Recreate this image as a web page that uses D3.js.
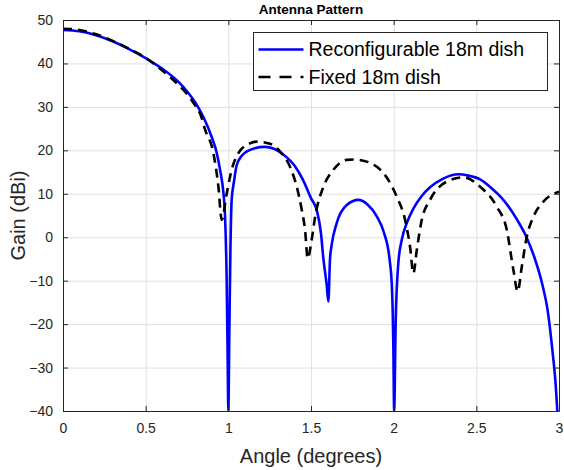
<!DOCTYPE html>
<html>
<head>
<meta charset="utf-8">
<script src="https://cdn.jsdelivr.net/npm/d3@7"></script>
<style>
  body { margin: 0; background: #fff; }
  text { font-family: 'Liberation Sans', Arial, sans-serif; fill: #262626; }
</style>
</head>
<body>
<svg></svg>
<script>
// Reconfigurable 18m dish (blue solid)
const reconfigAngle = [0, 0.1, 0.2, 0.3, 0.4, 0.5, 0.6, 0.7, 0.75, 0.8, 0.85, 0.9, 0.93, 0.95, 0.97, 0.98, 0.99, 0.996, 1.0,
  1.006, 1.013, 1.02, 1.035, 1.05, 1.08, 1.11, 1.16, 1.22, 1.28, 1.35, 1.40, 1.45, 1.50, 1.535, 1.56, 1.575, 1.595, 1.605,
  1.615, 1.625, 1.655, 1.716, 1.787, 1.84, 1.898, 1.94, 1.975, 1.99, 1.998, 2.003,
  2.012, 2.028, 2.049, 2.08, 2.119, 2.17, 2.22, 2.30, 2.391, 2.45, 2.523, 2.6, 2.65, 2.7, 2.75, 2.8, 2.85, 2.9, 2.93, 2.96, 2.98, 2.99];
const reconfigGain = [47.7, 47.4, 46.5, 45.1, 43.3, 41.2, 38.8, 35.7, 33.6, 31.0, 27.6, 23.0, 19.4, 15.5, 10.3, 5, -10, -28, -40,
  -22, -2, 8.5, 13, 16.5, 18.7, 19.7, 20.5, 20.8, 20.3, 18.5, 16.5, 13.3, 9, 6.2, 1, -5, -11, -14.8,
  -5, -1.8, 3.2, 7.4, 8.6, 7.6, 4.8, 1.2, -5, -12, -25, -40,
  -20, -6, -0.6, 3.3, 6.6, 9.5, 11.5, 13.5, 14.5, 14.2, 13.3, 11.0, 9.2, 6.8, 3.8, 0.3, -4.5, -11, -16.5, -26, -34, -40];

// Fixed 18m dish (black dashed)
const fixedAngle = [0, 0.1, 0.2, 0.3, 0.4, 0.5, 0.6, 0.7, 0.75, 0.8, 0.83, 0.86, 0.91, 0.94, 0.96,
  0.99, 1.02, 1.06, 1.131, 1.172, 1.252, 1.313, 1.373, 1.414, 1.444, 1.464, 1.48,
  1.504, 1.525, 1.575, 1.635, 1.716, 1.756, 1.837, 1.898, 1.948, 2.019, 2.069, 2.099, 2.119,
  2.14, 2.17, 2.22, 2.321, 2.422, 2.523, 2.624, 2.684, 2.724, 2.75,
  2.775, 2.805, 2.845, 2.906, 3.0];
const fixedGain = [48.0, 47.7, 46.7, 45.2, 43.4, 41.3, 38.4, 35.0, 33.0, 30.3, 28.4, 24.7, 19.3, 11.6, 4,
  10, 15.5, 19.3, 21.6, 22, 21.5, 19.7, 16.2, 11.6, 6.3, 1.7, -4.9,
  -0.6, 4.7, 11.6, 15.5, 17.8, 17.9, 17.4, 16.2, 14.3, 9.3, 4, -2.2, -8.3,
  -2.9, 4, 8.6, 12.8, 13.8, 11.6, 7, 1.7, -7.5, -12.5,
  -6.8, 0.1, 4.7, 8.2, 10.5];

const xTicks = [0, 0.5, 1, 1.5, 2, 2.5, 3];
const yTicks = [-40, -30, -20, -10, 0, 10, 20, 30, 40, 50];
const seriesNames = ['Reconfigurable 18m dish', 'Fixed 18m dish'];

const titleText = 'Antenna Pattern';
const xAxisLabelText = 'Angle (degrees)';
const yAxisLabelText = 'Gain (dBi)';

const W = 564;
const H = 470;
const margin = { top: 20, right: 5, bottom: 59, left: 63 };
const width = W - margin.left - margin.right;
const height = H - margin.top - margin.bottom;

const svg = d3.select('svg')
  .attr('width', W)
  .attr('height', H);

const chart = svg.append('g')
  .attr('transform', `translate(${margin.left}, ${margin.top})`);

const xScale = d3.scaleLinear()
  .domain([0, 3])
  .range([0, width]);

const yScale = d3.scaleLinear()
  .domain([-40, 50])
  .range([height, 0]);

// grid lines
chart.append('g')
  .attr('class', 'grid')
  .call(d3.axisBottom(xScale).tickValues(xTicks).tickSize(height).tickFormat(''))
  .call(g => g.select('.domain').remove())
  .selectAll('line').attr('stroke', '#e0e0e0');

chart.append('g')
  .attr('class', 'grid')
  .call(d3.axisLeft(yScale).tickValues(yTicks).tickSize(-width).tickFormat(''))
  .call(g => g.select('.domain').remove())
  .selectAll('line').attr('stroke', '#e0e0e0');

// lines
const line = d3.line()
  .curve(d3.curveMonotoneX)
  .x(d => xScale(d[0]))
  .y(d => yScale(d[1]));

const reconfig = reconfigAngle.map((a, i) => [a, reconfigGain[i]]);
const fixed = fixedAngle.map((a, i) => [a, fixedGain[i]]);

chart.append('clipPath').attr('id', 'plotclip')
  .append('rect').attr('width', width).attr('height', height + 1);

chart.append('path')
  .datum(reconfig)
  .attr('clip-path', 'url(#plotclip)')
  .attr('fill', 'none')
  .attr('stroke', '#0000ff')
  .attr('stroke-width', 2.6)
  .attr('stroke-linejoin', 'round')
  .attr('d', line);

chart.append('path')
  .datum(fixed)
  .attr('clip-path', 'url(#plotclip)')
  .attr('fill', 'none')
  .attr('stroke', '#000')
  .attr('stroke-width', 2.6)
  .attr('stroke-dasharray', '9,6')
  .attr('d', line);

// axes with inward ticks, box on all sides
const axisColor = '#262626';
const styleAxis = g => {
  g.select('.domain').attr('stroke', axisColor);
  g.selectAll('line').attr('stroke', axisColor);
};

chart.append('g')
  .attr('transform', `translate(0, ${height})`)
  .call(d3.axisBottom(xScale).tickValues(xTicks).tickSizeInner(-5).tickSizeOuter(0).tickPadding(12).tickFormat(d3.format('')))
  .call(styleAxis)
  .selectAll('text').attr('font-size', 14).attr('fill', axisColor);

chart.append('g')
  .call(d3.axisTop(xScale).tickValues(xTicks).tickSizeInner(-5).tickSizeOuter(0).tickFormat(''))
  .call(styleAxis);

chart.append('g')
  .call(d3.axisLeft(yScale).tickValues(yTicks).tickSizeInner(-5).tickSizeOuter(0).tickPadding(10))
  .call(styleAxis)
  .selectAll('text').attr('font-size', 14).attr('fill', axisColor);

chart.append('g')
  .attr('transform', `translate(${width}, 0)`)
  .call(d3.axisRight(yScale).tickValues(yTicks).tickSizeInner(-5).tickSizeOuter(0).tickFormat(''))
  .call(styleAxis);

// title and axis labels
svg.append('text')
  .attr('x', margin.left + width / 2)
  .attr('y', 14)
  .attr('text-anchor', 'middle')
  .attr('font-size', 13.5)
  .attr('font-weight', 'bold')
  .style('fill', '#000')
  .text(titleText);

svg.append('text')
  .attr('x', margin.left + width / 2)
  .attr('y', 463)
  .attr('text-anchor', 'middle')
  .attr('font-size', 20)
  .text(xAxisLabelText);

svg.append('text')
  .attr('transform', `translate(25, ${margin.top + height / 2}) rotate(-90)`)
  .attr('text-anchor', 'middle')
  .attr('font-size', 20)
  .text(yAxisLabelText);

// legend
const legend = svg.append('g')
  .attr('transform', 'translate(253.5, 32.5)');

legend.append('rect')
  .attr('width', 294)
  .attr('height', 58)
  .attr('fill', '#fff')
  .attr('stroke', axisColor);

const legendStyles = [
  { color: '#0000ff', dash: null },
  { color: '#000', dash: '12,9' }
];

seriesNames.forEach((name, i) => {
  const yy = 17 + i * 27.5;
  legend.append('line')
    .attr('x1', 5).attr('x2', 50)
    .attr('y1', yy).attr('y2', yy)
    .attr('stroke', legendStyles[i].color)
    .attr('stroke-width', 2.6)
    .attr('stroke-dasharray', legendStyles[i].dash);
  legend.append('text')
    .attr('x', 55)
    .attr('y', yy)
    .attr('dy', '0.35em')
    .attr('font-size', 19.5)
    .style('fill', '#000')
    .text(name);
});
</script>
</body>
</html>
